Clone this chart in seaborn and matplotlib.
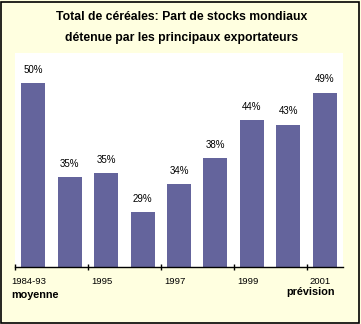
import matplotlib
matplotlib.use("Agg")
import matplotlib.pyplot as plt
import seaborn as sns
import pandas as pd
from matplotlib.patches import Rectangle
from matplotlib.transforms import blended_transform_factory

categories = ["1984-93", "1994", "1995", "1996", "1997", "1998", "1999", "2000", "2001"]
values = [50.1, 34.7, 35.3, 29.0, 33.5, 37.8, 44.0, 43.3, 48.5]
value_labels = ["50%", "35%", "35%", "29%", "34%", "38%", "44%", "43%", "49%"]
tick_labels = ["1984-93", "1995", "1997", "1999", "2001"]
tick_label_pos = [0, 2, 4, 6, 8]
sub_labels = {0: "moyenne", 8: "prévision"}
title_lines = ["Total de céréales: Part de stocks mondiaux",
               "détenue par les principaux exportateurs"]

sns.set_theme(style="white")
plt.rcParams['font.family'] = ['Liberation Sans', 'DejaVu Sans']

bg = "#FFFFE0"
bar_color = "#64649C"

fig = plt.figure(figsize=(3.61, 3.24), dpi=100, facecolor=bg)
ax = fig.add_axes([15/361, 1 - 267/324, (343-15)/361, (267-53)/324])
ax.set_facecolor("white")

df = pd.DataFrame({"cat": categories, "val": values})
sns.barplot(data=df, x="cat", y="val", color=bar_color, saturation=1,
            width=0.66, ax=ax, edgecolor="none")

ax.set_xlim(-0.5, 8.5)
ax.set_ylim(20, 55)
ax.set_xlabel("")
ax.set_ylabel("")
ax.set_yticks([])
for s in ["top", "right", "left"]:
    ax.spines[s].set_visible(False)
ax.spines["bottom"].set_color("black")
ax.spines["bottom"].set_linewidth(1.0)

ax.set_xticks([-0.5, 1.5, 3.5, 5.5, 7.5])
ax.set_xticklabels([])
ax.tick_params(axis="x", direction="inout", length=5, width=1, color="black", bottom=True)

for i, (v, lab) in enumerate(zip(values, value_labels)):
    ax.annotate(lab, (i, v), xytext=(0, 6), textcoords="offset points",
                ha="center", va="bottom", fontsize=7, color="black")

trans = blended_transform_factory(ax.transData, fig.transFigure)
for p, lab in zip(tick_label_pos, tick_labels):
    ax.text(p - 0.12, 1 - 281/324, lab, transform=trans, ha="center", va="center",
            fontsize=6.8, color="black")
for p, lab in sub_labels.items():
    off = 0.05 if p == 0 else -0.4
    y = 1 - 295/324 if p == 0 else 1 - 292/324
    ax.text(p + off, y, lab, transform=trans, ha="center", va="center",
            fontsize=7.8, fontweight="bold", color="black")

for line, yc in zip(title_lines, [16.5, 37.5]):
    fig.text(182/361, 1 - yc/324, line, ha="center", va="center", fontsize=8.8,
             fontweight="bold", color="black")

fig.patches.append(Rectangle((0.5/361, 1.5/324), 358/361, 321/324, transform=fig.transFigure,
                             fill=False, edgecolor="black", linewidth=1.2))

fig.savefig("out.png", dpi=100, facecolor=bg)
